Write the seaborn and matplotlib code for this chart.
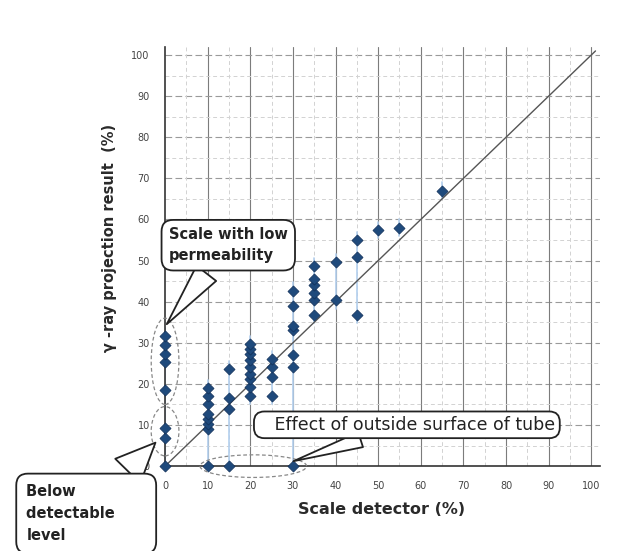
import matplotlib
matplotlib.use("Agg")
import matplotlib.pyplot as plt
from matplotlib.patches import Ellipse
import seaborn as sns
import pandas as pd

# ---- data ----
scale_detector = [0, 10, 15, 20, 25, 30, 35, 40, 45, 50, 55, 65]
gamma_results = [
    [0, 6.9, 9.3, 18.6, 25.3, 27.2, 29.4, 31.7],
    [0, 9.0, 10.3, 11.5, 12.6, 15.0, 17.0, 18.9],
    [0, 14.0, 16.5, 23.6],
    [17.0, 19.3, 21.2, 22.4, 24.1, 25.8, 27.2, 28.4, 29.6],
    [17.0, 21.7, 24.0, 26.0],
    [0, 24.0, 27.0, 33.0, 34.2, 39.0, 42.7],
    [36.8, 40.3, 42.0, 44.0, 45.6, 48.7],
    [40.3, 49.6],
    [36.8, 50.8, 55.0],
    [57.5],
    [58.0],
    [67.0],
]
ticks = [0, 10, 20, 30, 40, 50, 60, 70, 80, 90, 100]
x_label = "Scale detector (%)"
y_label = "γ -ray projection result  (%)"

rows = []
for xv, ys in zip(scale_detector, gamma_results):
    for yv in ys:
        rows.append({"x": xv, "y": yv})
df = pd.DataFrame(rows)

sns.set_theme(style="white")
plt.rcParams['font.family'] = ['DejaVu Sans']

fig = plt.figure(figsize=(6.3, 5.51), dpi=100)
ax = fig.add_axes([0.262, 0.154, 0.69, 0.761])

# grid
for t in ticks[1:]:
    ax.axvline(t, color="#7c7c7c", lw=0.8, zorder=0)
    ax.axhline(t, color="#9a9a9a", lw=0.8, ls=(0, (6, 3)), zorder=0)
for t in range(5, 100, 10):
    ax.axvline(t, color="#d2d2d2", lw=0.7, ls=(0, (4, 3)), zorder=0)
    ax.axhline(t, color="#d2d2d2", lw=0.7, ls=(0, (4, 3)), zorder=0)

# faint range bars per column
for xv, ys in zip(scale_detector, gamma_results):
    ax.plot([xv, xv], [min(ys) - 2, max(ys) + 2], color="#b3cfee", lw=1.2, zorder=1)

# diagonal y = x
sns.lineplot(x=[0, 101], y=[0, 101], ax=ax, color="#555555", lw=1.0, zorder=2)

sns.scatterplot(data=df, x="x", y="y", ax=ax, marker="D", s=32,
                color="#1f4a7c", edgecolor="#123058", linewidth=0.5, zorder=3,
                clip_on=False)

ax.set_xlim(0, 102)
ax.set_ylim(0, 102)
ax.set_xticks(ticks)
ax.set_yticks(ticks)
ax.set_xticklabels([str(t) for t in ticks], fontsize=7, color="#444444")
ax.set_yticklabels([str(t) for t in ticks], fontsize=7, color="#444444")
ax.tick_params(axis="both", length=3, width=0.8, color="#444444", pad=8)
for s in ["top", "right"]:
    ax.spines[s].set_visible(False)
for s in ["left", "bottom"]:
    ax.spines[s].set_color("#333333")
    ax.spines[s].set_linewidth(1.2)

ax.set_xlabel(x_label, fontsize=11.5, fontweight="bold", color="#2a2a2a")
ax.xaxis.set_label_coords(0.497, -0.085)
ax.set_ylabel(y_label, fontsize=10.5, fontweight="bold", color="#2a2a2a")
ax.yaxis.set_label_coords(-0.11, 0.545)

# ellipses
for (cx, cy, w, h) in [(0, 25.5, 6.5, 21), (0, 8.5, 6.5, 12), (20.7, 0, 25, 5.5)]:
    ax.add_patch(Ellipse((cx, cy), w, h, fill=False, ec="#888888", lw=0.9,
                         ls=(0, (3, 2)), clip_on=False, zorder=4))

def bb(pad):
    return dict(boxstyle=f"round,pad={pad},rounding_size=0.8", fc="white",
                ec="#222222", lw=1.3)

def wedge(w):
    return dict(arrowstyle=f"wedge,tail_width={w},shrink_factor=0.5", fc="white",
                ec="#222222", lw=1.3)

ax.annotate("Scale with low\npermeability", xy=(0, 34), xycoords="data",
            xytext=(0.268, 0.555), textcoords="figure fraction",
            fontsize=10.5, fontweight="bold", color="#222222", ha="left", va="center",
            linespacing=1.5, bbox=bb(0.5), arrowprops=wedge(1.7), zorder=6,
            annotation_clip=False)

ax.annotate("Below       \ndetectable      \nlevel", xy=(-1.8, 6.2), xycoords="data",
            xytext=(0.042, 0.068), textcoords="figure fraction",
            fontsize=10.5, fontweight="bold", color="#222222", ha="left", va="center",
            linespacing=1.6, bbox=bb(0.7), arrowprops=wedge(2.4), zorder=6,
            annotation_clip=False)

ax.annotate("   Effect of outside surface of tube", xy=(29.5, 1.0), xycoords="data",
            xytext=(0.41, 0.229), textcoords="figure fraction",
            fontsize=12.5, color="#222222", ha="left", va="center",
            bbox=dict(boxstyle="round,pad=0.25,rounding_size=0.6", fc="white",
                      ec="#222222", lw=1.3),
            arrowprops=wedge(0.9), zorder=6, annotation_clip=False)

fig.savefig("out.png", dpi=100)
